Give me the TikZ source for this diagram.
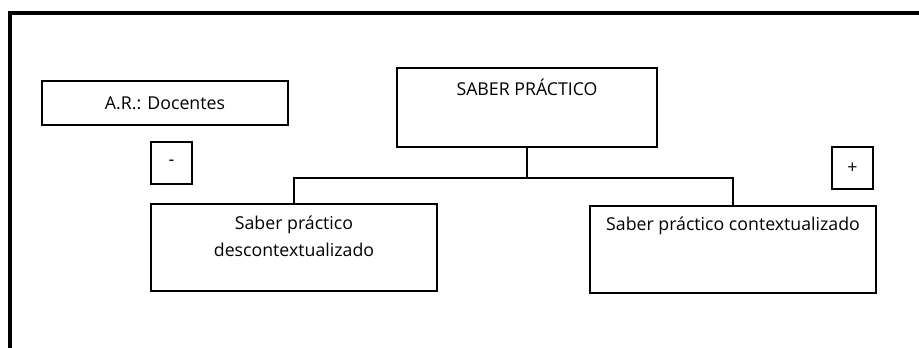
\documentclass[tikz,border=0pt]{standalone}
\usepackage{fontspec}
\setmainfont{Open Sans}

\begin{document}
\begin{tikzpicture}[x=0.75pt,y=-0.75pt,line width=1.2pt]
	\tikzstyle{caja}=[draw,inner sep=0pt,font=\fontsize{13.3}{20.25}\selectfont]
	\tikzstyle{texto}=[font=\fontsize{13.3}{20.25}\selectfont,align=center,anchor=center]

	\useasboundingbox (0,0) rectangle (919,348);
	\draw[line width=3pt] (10,348) |- (919,13);

	\node[caja,minimum width=184.5pt,minimum height=33pt](ar) at (165,103){A.R.: Docentes};
	\node[caja,minimum width=30.75pt,minimum height=31.5pt](menos) at (171.5,163){-};
	\node[caja,minimum width=30.75pt,minimum height=31.5pt](mas) at (852.5,168){+};

	\node[caja,minimum width=195pt,minimum height=59.25pt,
		label={[texto,yshift=-15pt]north:SABER PRÁCTICO}](saber) at (527,107.5){};
	\node[caja,minimum width=214.5pt,minimum height=65.25pt,
		label={[texto,yshift=-24.75pt]north:Saber práctico\\descontextualizado}](izq) at (294,247.5){};
	\node[caja,minimum width=214.5pt,minimum height=65.25pt,
		label={[texto,yshift=-15.75pt]north:Saber práctico contextualizado}](der) at (733,249.5){};

	\coordinate (rama) at (527,178);
	\draw (saber) -- (rama);
	\draw (izq.north) |- (rama) -| (der.north);
\end{tikzpicture}
\end{document}
